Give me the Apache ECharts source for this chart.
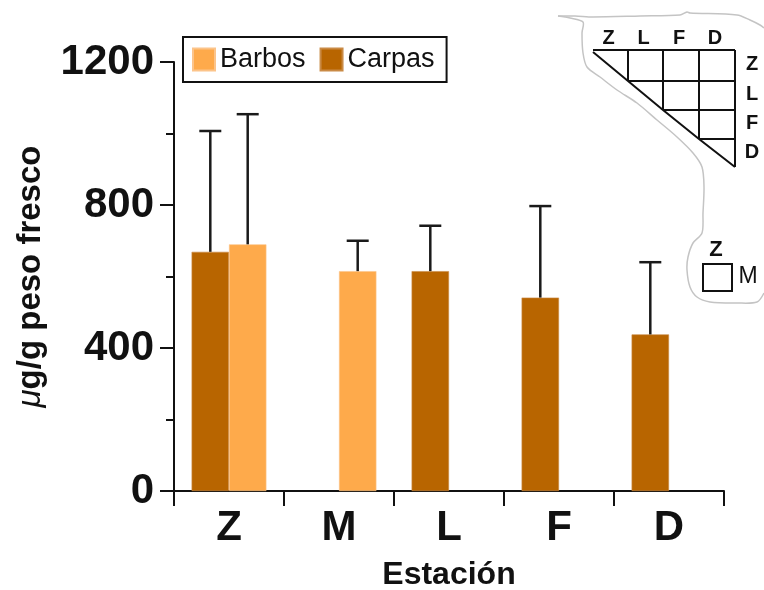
<!DOCTYPE html>
<html>
<head>
<meta charset="utf-8">
<script src="https://cdn.jsdelivr.net/npm/echarts@6/dist/echarts.min.js"></script>
<style>
html,body{margin:0;padding:0;background:#fff;}
#chart{width:764px;height:590px;}
</style>
</head>
<body>
<div id="chart"></div>
<script>
// ---- data ----
const categories = ['Z', 'M', 'L', 'F', 'D'];
const barbosMean = [690, 615, null, null, null];
const barbosSD   = [364, 85, null, null, null];
const carpasMean = [669, null, 615, 541, 438];
const carpasSD   = [338, null, 127, 256, 202];
const yTicks = [0, 400, 800, 1200];
const insetCols = ['Z', 'L', 'F', 'D'];
const insetRows = ['Z', 'L', 'F', 'D'];

const FONT = 'Liberation Sans, Arial, Helvetica, sans-serif';
const LIGHT = '#FEAA4B';
const DARK = '#B86500';
const CAT_GAP = 0.32;

function errData(mean, sd) {
  const out = [];
  mean.forEach((m, i) => { if (m != null && sd[i] != null) out.push([i, m, sd[i]]); });
  return out;
}
function errRender(sign) {
  return function (params, api) {
    const x = api.value(0), m = api.value(1), s = api.value(2);
    const p0 = api.coord([x, m]);
    const p1 = api.coord([x, m + s]);
    const band = api.size([1, 0])[0];
    const cx = p0[0] + sign * band * (1 - CAT_GAP) / 4;
    const half = 11;
    const st = { stroke: '#1a1a1a', lineWidth: 2.5 };
    return {
      type: 'group',
      children: [
        { type: 'line', shape: { x1: cx, y1: p0[1], x2: cx, y2: p1[1] }, style: st },
        { type: 'line', shape: { x1: cx - half, y1: p1[1], x2: cx + half, y2: p1[1] }, style: st }
      ]
    };
  };
}

function txt(t, x, y, size, weight) {
  return { type: 'text', x: x, y: y, style: { text: t, fontSize: size, fontWeight: weight, fontFamily: FONT, fill: '#111', align: 'center', verticalAlign: 'middle' } };
}

// inset decoration
const cols = [593, 628, 663, 699, 735];
const rows = [50, 81, 110, 139, 167];
const lineStyle = { stroke: '#111', lineWidth: 2 };
const graphics = [];
graphics.push({ type: 'polyline', shape: { points: [
  [558,16],[570,18],[583,22],[582,33],[583,53],[587,67],[600,77],[617,90],[637,103],[657,120],[677,137],[693,153],[702,167],[704,187],[703,213],[702,233],[693,243],[688,257],[687,270],[690,287],[697,297],[710,302],[737,303],[757,302],[764,293]
], smooth: 0.3 }, style: { stroke: '#c4c4c4', lineWidth: 1.5, fill: null } });
graphics.push({ type: 'polyline', shape: { points: [[558,16],[575,16],[593,17],[640,16],[680,15],[687,12],[690,13],[737,15],[750,20],[760,25],[764,28]], smooth: 0.3 }, style: { stroke: '#c4c4c4', lineWidth: 1.5, fill: null } });
graphics.push({ type: 'line', shape: { x1: cols[0], y1: rows[0], x2: cols[4], y2: rows[0] }, style: lineStyle });
graphics.push({ type: 'line', shape: { x1: cols[4], y1: rows[0], x2: cols[4], y2: rows[4] }, style: lineStyle });
graphics.push({ type: 'polyline', shape: { points: [[cols[0], rows[0] + 2], [cols[1], rows[1]], [cols[2], rows[2]], [cols[3], rows[3]], [cols[4], rows[4]]] }, style: { stroke: '#111', lineWidth: 2, fill: null } });
for (let i = 1; i < 4; i++) {
  graphics.push({ type: 'line', shape: { x1: cols[i], y1: rows[0], x2: cols[i], y2: rows[i] }, style: lineStyle });
  graphics.push({ type: 'line', shape: { x1: cols[i], y1: rows[i], x2: cols[4], y2: rows[i] }, style: lineStyle });
}
insetCols.forEach((t, i) => {
  graphics.push(txt(t, (cols[i] + cols[i + 1]) / 2 - 2, 38, 20, 'bold'));
});
insetRows.forEach((t, i) => {
  graphics.push(txt(t, 752, (rows[i] + rows[i + 1]) / 2 - 1, 20, 'bold'));
});
graphics.push(txt('Z', 716, 250, 22, 'bold'));
graphics.push({ type: 'rect', shape: { x: 703, y: 264, width: 29, height: 27 }, style: { stroke: '#111', lineWidth: 2, fill: null } });
graphics.push(txt('M', 748, 277, 23, 'normal'));

const chart = echarts.init(document.getElementById('chart'), null, { renderer: 'canvas' });
chart.setOption({
  animation: false,
  backgroundColor: '#fff',
  textStyle: { fontFamily: FONT },
  grid: { left: 174, right: 40, top: 62, bottom: 99, containLabel: false, outerBoundsMode: 'none' },
  legend: {
    left: 183, top: 37,
    data: ['Barbos', 'Carpas'],
    orient: 'horizontal',
    itemWidth: 22, itemHeight: 22, itemGap: 14,
    padding: [9, 12, 9, 9],
    borderColor: '#111', borderWidth: 2,
    textStyle: { fontSize: 27, color: '#111', fontFamily: FONT },
    icon: 'rect'
  },
  xAxis: {
    type: 'category',
    data: categories,
    boundaryGap: true,
    name: 'Estación',
    nameLocation: 'middle',
    nameGap: 68,
    nameTextStyle: { fontSize: 32, fontWeight: 'bold', color: '#111', fontFamily: FONT },
    axisLine: { show: true, lineStyle: { color: '#111', width: 2 } },
    axisTick: { show: true, alignWithLabel: false, length: 15, lineStyle: { color: '#111', width: 2 } },
    axisLabel: { fontSize: 42, fontWeight: 'bold', color: '#111', margin: 16, fontFamily: FONT },
    splitLine: { show: false }
  },
  yAxis: {
    type: 'value',
    min: 0, max: 1200, interval: 400,
    name: '{mu|μ}g/g peso fresco',
    nameLocation: 'middle',
    nameGap: 127,
    nameRotate: 90,
    nameTextStyle: {
      fontSize: 33, fontWeight: 'bold', color: '#111', fontFamily: FONT,
      rich: { mu: { fontSize: 33, fontStyle: 'italic', fontWeight: 'normal', color: '#111', fontFamily: FONT } }
    },
    axisLine: { show: true, lineStyle: { color: '#111', width: 2 } },
    axisTick: { show: true, length: 14, lineStyle: { color: '#111', width: 2 } },
    minorTick: { show: true, splitNumber: 2, length: 8, lineStyle: { color: '#111', width: 2 } },
    axisLabel: {
      fontSize: 42, fontWeight: 'bold', color: '#111', margin: 20, fontFamily: FONT,
      formatter: v => (yTicks.indexOf(v) >= 0 ? String(v) : '')
    },
    splitLine: { show: false }
  },
  series: [
    {
      name: 'Carpas', type: 'bar', data: carpasMean,
      barGap: '0%', barCategoryGap: (CAT_GAP * 100) + '%',
      itemStyle: { color: DARK, borderColor: '#c98a45', borderWidth: 0.6 }
    },
    {
      name: 'Barbos', type: 'bar', data: barbosMean,
      barGap: '0%', barCategoryGap: (CAT_GAP * 100) + '%',
      itemStyle: { color: LIGHT, borderColor: '#fcc48a', borderWidth: 0.6 }
    },
    {
      name: 'errC', type: 'custom', data: errData(carpasMean, carpasSD),
      renderItem: errRender(-1), encode: { x: 0, y: 1 }, z: 5, silent: true
    },
    {
      name: 'errB', type: 'custom', data: errData(barbosMean, barbosSD),
      renderItem: errRender(1), encode: { x: 0, y: 1 }, z: 5, silent: true
    }
  ],
  graphic: graphics
});
</script>
</body>
</html>
